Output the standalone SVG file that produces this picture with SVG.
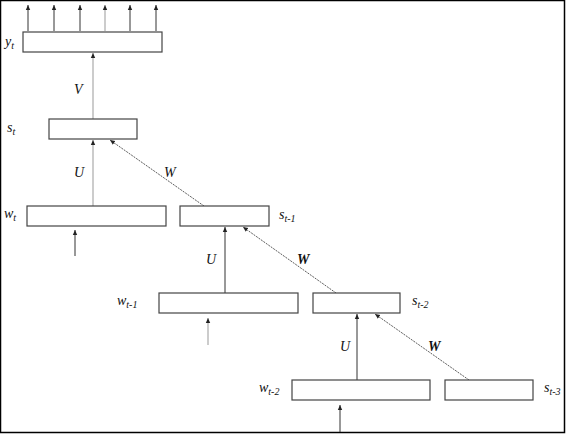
<svg xmlns="http://www.w3.org/2000/svg" width="566" height="434" viewBox="0 0 566 434">
<style>
.box{fill:#fff;stroke:#444;stroke-width:1.2}
.ln{stroke:#333;stroke-width:1;fill:none}
.lt{stroke:#999;stroke-width:1;fill:none}
.dg{stroke:#333;stroke-width:0.8;fill:none;stroke-dasharray:2 1}
text{font-family:"Liberation Serif","Times New Roman",serif;font-style:italic;fill:#111}
.lab{font-size:14px}
.sub{font-size:10px}
.wt{font-size:14px}
</style>
<defs>
<marker id="ah" markerWidth="6" markerHeight="6" refX="5" refY="3" orient="auto" markerUnits="userSpaceOnUse">
<path d="M0,0.8 L5,3 L0,5.2 Z" fill="#222"/>
</marker>
</defs>
<rect x="0.5" y="0.5" width="564" height="432" fill="#fff" stroke="#000" stroke-width="1.5"/>
<g id="connectors">
<line class="ln" x1="28" y1="31" x2="28" y2="5" marker-end="url(#ah)"/>
<line class="ln" x1="54" y1="31" x2="54" y2="5" marker-end="url(#ah)"/>
<line class="ln" x1="80" y1="31" x2="80" y2="5" marker-end="url(#ah)"/>
<line class="lt" x1="105" y1="31" x2="105" y2="5" marker-end="url(#ah)"/>
<line class="ln" x1="130" y1="31" x2="130" y2="5" marker-end="url(#ah)"/>
<line class="ln" x1="156" y1="31" x2="156" y2="5" marker-end="url(#ah)"/>
<line class="lt" x1="93" y1="119" x2="93" y2="53" marker-end="url(#ah)"/>
<line class="lt" x1="93" y1="206" x2="93" y2="140" marker-end="url(#ah)"/>
<line class="dg" x1="204" y1="206" x2="110" y2="140" marker-end="url(#ah)"/>
<line class="ln" x1="75" y1="256" x2="75" y2="230" marker-end="url(#ah)"/>
<line class="ln" x1="225" y1="293" x2="225" y2="227" marker-end="url(#ah)"/>
<line class="dg" x1="336" y1="293" x2="243" y2="227" marker-end="url(#ah)"/>
<line class="lt" x1="208" y1="345" x2="208" y2="318" marker-end="url(#ah)"/>
<line class="ln" x1="357" y1="380" x2="357" y2="314" marker-end="url(#ah)"/>
<line class="dg" x1="469" y1="380" x2="375" y2="314" marker-end="url(#ah)"/>
<line class="ln" x1="340" y1="432" x2="340" y2="405" marker-end="url(#ah)"/>
</g>
<g id="yt"><rect class="box" x="23" y="32" width="139" height="20"/><text class="lab" x="5" y="46">y<tspan class="sub" dy="3">t</tspan></text></g>
<g id="st"><rect class="box" x="49" y="119" width="88" height="20"/><text class="lab" x="7" y="132">s<tspan class="sub" dy="3">t</tspan></text></g>
<g id="wt"><rect class="box" x="27" y="206" width="139" height="20"/><text class="lab" x="4" y="218">w<tspan class="sub" dy="3">t</tspan></text></g>
<g id="st1"><rect class="box" x="180" y="206" width="89" height="20"/><text class="lab" x="279" y="219">s<tspan class="sub" dy="3">t-1</tspan></text></g>
<g id="wt1"><rect class="box" x="159" y="293" width="139" height="20"/><text class="lab" x="117" y="305">w<tspan class="sub" dy="3">t-1</tspan></text></g>
<g id="st2"><rect class="box" x="313" y="293" width="87" height="20"/><text class="lab" x="412" y="305">s<tspan class="sub" dy="3">t-2</tspan></text></g>
<g id="wt2"><rect class="box" x="292" y="380" width="138" height="20"/><text class="lab" x="259" y="392">w<tspan class="sub" dy="3">t-2</tspan></text></g>
<g id="st3"><rect class="box" x="445" y="380" width="88" height="20"/><text class="lab" x="544" y="392">s<tspan class="sub" dy="3">t-3</tspan></text></g>
<g id="labels">
<text class="wt" x="74" y="94">V</text>
<text class="wt" x="74" y="177">U</text>
<text class="wt" x="164" y="177">W</text>
<text class="wt" x="206" y="264">U</text>
<text class="wt" x="297" y="264" font-weight="bold">W</text>
<text class="wt" x="340" y="351">U</text>
<text class="wt" x="428" y="351" font-weight="bold">W</text>
</g>
</svg>
